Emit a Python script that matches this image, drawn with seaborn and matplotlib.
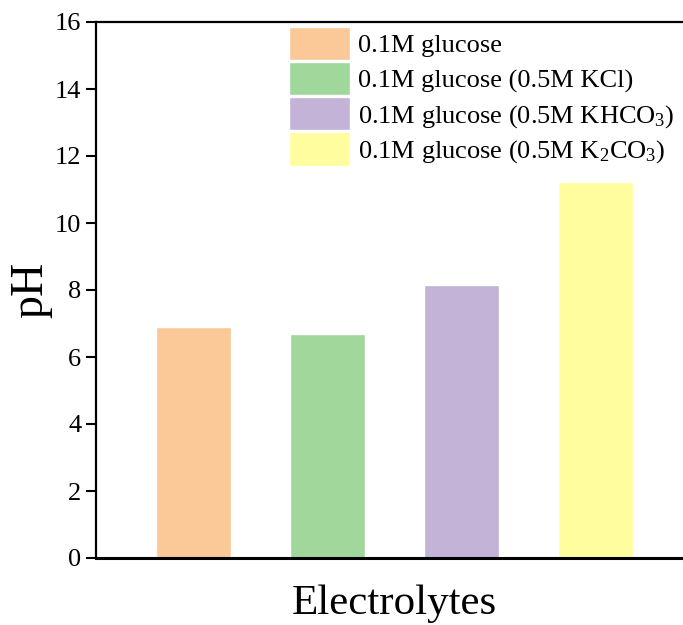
import matplotlib
matplotlib.use('Agg')
import matplotlib.pyplot as plt
import seaborn as sns
import pandas as pd

# Data
labels = ['0.1M glucose',
          '0.1M glucose (0.5M KCl)',
          r'0.1M glucose (0.5M KHCO$\mathregular{_3}$)',
          r'0.1M glucose (0.5M K$\mathregular{_2}$CO$\mathregular{_3}$)']
ph_values = [6.90, 6.69, 8.14, 11.22]
colors = ['#FBC997', '#A0D89C', '#C3B3D7', '#FFFD9E']

df = pd.DataFrame({'electrolyte': labels, 'pH': ph_values})

sns.set_style('ticks', {'axes.edgecolor': 'black', 'ytick.color': 'black',
                        'text.color': 'black', 'axes.labelcolor': 'black'})
plt.rcParams['font.family'] = ['Liberation Serif', 'DejaVu Serif']
plt.rcParams['mathtext.fontset'] = 'custom'
plt.rcParams['mathtext.rm'] = 'Liberation Serif'

fig = plt.figure(figsize=(6.83, 6.25), dpi=100)
ax = fig.add_axes([96 / 683, 67 / 625, 597 / 683, 536 / 625])

sns.barplot(data=df, x='electrolyte', y='pH', hue='electrolyte',
            palette=colors, width=0.56, dodge=False, legend=True,
            saturation=1, ax=ax)

ax.set_xlim(-0.73, 3.73)
ax.set_ylim(0, 16)
ax.set_yticks(range(0, 17, 2))
ax.set_xticks([])
ax.tick_params(axis='y', direction='out', length=7, width=1.5, labelsize=19,
               colors='black')

for side in ['left', 'top', 'bottom']:
    ax.spines[side].set_linewidth(1.6)
    ax.spines[side].set_color('black')
ax.spines['bottom'].set_linewidth(2.2)
ax.spines['right'].set_visible(False)

ax.set_xlabel('Electrolytes', fontsize=31, labelpad=19)
ax.set_ylabel('pH', fontsize=33, labelpad=2)

ax.legend(loc='upper left', bbox_to_anchor=(289 / 683, 1 - 27 / 625),
          bbox_transform=fig.transFigure, frameon=False, fontsize=19,
          handlelength=2.3, handleheight=1.55, handletextpad=0.3,
          labelspacing=0.08, borderpad=0, borderaxespad=0)

plt.savefig('out.png', dpi=100)
